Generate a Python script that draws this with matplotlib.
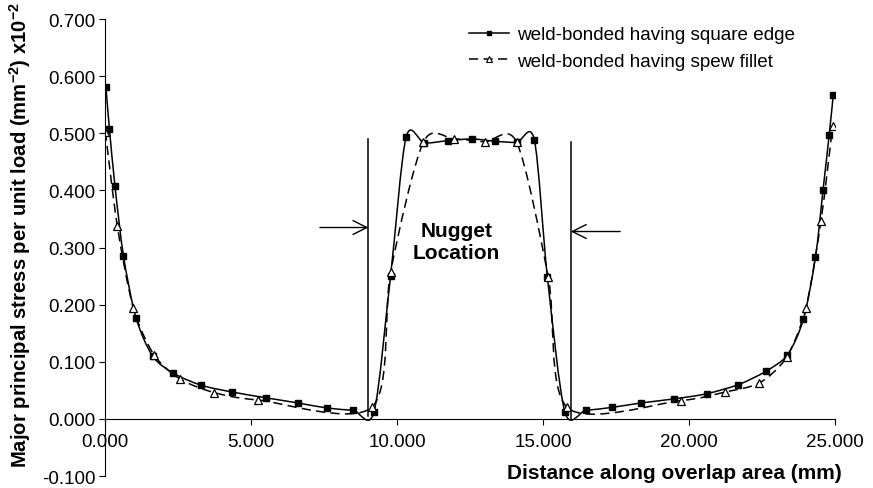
import numpy as np
import matplotlib.pyplot as plt
from matplotlib.path import Path
from matplotlib.patches import PathPatch
from matplotlib.lines import Line2D

plt.rcParams['font.family'] = ['Liberation Sans', 'DejaVu Sans']
plt.rcParams['mathtext.fontset'] = 'custom'
plt.rcParams['mathtext.rm'] = 'Liberation Sans'
plt.rcParams['mathtext.bf'] = 'Liberation Sans:bold'

# puntos
square_x = [0.03, 0.15, 0.34, 0.63, 1.06, 1.63, 2.34, 3.29, 4.36, 5.50, 6.60, 7.61,
            8.50, 9.21, 9.78, 10.31, 10.94, 11.74, 12.56, 13.36, 14.10, 14.70, 15.15,
            15.75, 16.47, 17.35, 18.37, 19.49, 20.60, 21.69, 22.62, 23.37, 23.92,
            24.33, 24.59, 24.80, 24.94]
square_y = [0.581, 0.508, 0.408, 0.286, 0.177, 0.110, 0.080, 0.059, 0.047, 0.037, 0.028,
            0.019, 0.015, 0.012, 0.251, 0.493, 0.483, 0.487, 0.490, 0.486, 0.484, 0.489,
            0.248, 0.012, 0.015, 0.020, 0.028, 0.035, 0.044, 0.060, 0.083, 0.112, 0.175,
            0.283, 0.401, 0.497, 0.567]

spew_x = [0.01, 0.42, 0.97, 1.68, 2.57, 3.74, 5.25, 9.15, 9.78, 10.90, 11.95, 13.01,
          14.10, 15.18, 15.83, 19.71, 21.23, 22.41, 23.34, 24.00, 24.52, 24.92]
spew_y = [0.503, 0.338, 0.194, 0.112, 0.070, 0.046, 0.033, 0.021, 0.257, 0.484, 0.490,
          0.485, 0.484, 0.248, 0.020, 0.032, 0.047, 0.063, 0.108, 0.194, 0.347, 0.513]

labels = ['weld-bonded having square edge', 'weld-bonded having spew fillet']
x_ticks = [0, 5, 10, 15, 20, 25]
y_ticks = [-0.1, 0.0, 0.1, 0.2, 0.3, 0.4, 0.5, 0.6, 0.7]

# limites de la pepita (lineas verticales y flechas)
nugget_left = 9.02
nugget_right = 15.95


def smooth_path(xs, ys, k=7.0):
    # curva suavizada tipo Excel (Bezier por segmentos)
    pts = np.column_stack([xs, ys])
    n = len(pts)
    verts = [pts[0]]
    codes = [Path.MOVETO]
    for i in range(n - 1):
        p0 = pts[max(i - 1, 0)]
        p1 = pts[i]
        p2 = pts[i + 1]
        p3 = pts[min(i + 2, n - 1)]
        verts += [p1 + (p2 - p0) / k, p2 - (p3 - p1) / k, p2]
        codes += [Path.CURVE4] * 3
    return Path(verts, codes)


fig = plt.figure(figsize=(8.73, 4.89), dpi=100)
ax = fig.add_axes([0.1203, 0.0245, 0.8362, 0.9346])

ax.add_patch(PathPatch(smooth_path(square_x, square_y), fill=False, color='black', lw=1.1))
ax.add_patch(PathPatch(smooth_path(spew_x, spew_y), fill=False, color='black', lw=1.1,
                       linestyle=(0, (6, 3.5))))
ax.plot(square_x, square_y, ls='none', marker='s', ms=4.5, color='black')
ax.plot(spew_x, spew_y, ls='none', marker='^', ms=6, mfc='white', mec='black', mew=0.9)

ax.plot([nugget_left, nugget_left], [0.005, 0.49], color='black', lw=1.1)
ax.plot([nugget_right, nugget_right], [0.0, 0.485], color='black', lw=1.1)
ax.annotate('', xy=(nugget_left, 0.335), xytext=(7.36, 0.335),
            arrowprops=dict(arrowstyle='->,head_length=0.5,head_width=0.25', color='black',
                            lw=1.0, shrinkA=0, shrinkB=0, mutation_scale=20))
ax.annotate('', xy=(nugget_right, 0.328), xytext=(17.64, 0.328),
            arrowprops=dict(arrowstyle='->,head_length=0.5,head_width=0.25', color='black',
                            lw=1.0, shrinkA=0, shrinkB=0, mutation_scale=20))
ax.text(12.04, 0.31, 'Nugget\nLocation', ha='center', va='center', fontsize=15,
        fontweight='bold', linespacing=1.2)

ax.set_xlim(0, 25)
ax.set_ylim(-0.1, 0.7)
ax.spines['top'].set_visible(False)
ax.spines['right'].set_visible(False)
ax.spines['bottom'].set_position(('data', 0))
ax.set_xticks(x_ticks)
ax.set_xticklabels([f'{v:.3f}' for v in x_ticks])
ax.set_yticks(y_ticks)
ax.set_yticklabels([f'{v:.3f}' for v in y_ticks])
ax.tick_params(direction='out', length=4, width=0.8, labelsize=13.5, colors='black', pad=3)
ax.tick_params(axis='x', pad=6)

handles = [Line2D([], [], color='black', lw=1.1, marker='s', ms=3),
           Line2D([], [], color='black', lw=1.1, ls=(0, (6, 3.5)), marker='^', ms=4,
                  mfc='white', mec='black', mew=0.8)]
fig.legend(handles, labels, loc='upper left', bbox_to_anchor=(469 / 873, 1 - 27 / 489),
           frameon=False, fontsize=13.6, handlelength=2.1, handletextpad=0.42,
           labelspacing=0.5, borderpad=0, borderaxespad=0)

fig.text(20 / 873, 1 - 235 / 489,
         r'Major principal stress per unit load (mm$^{\mathbf{-2}}$) x10$^{\mathbf{-2}}$',
         rotation=90, ha='center', va='center', fontsize=14.6, fontweight='bold')
fig.text(842 / 873, 1 - 479 / 489, 'Distance along overlap area (mm)', ha='right',
         va='baseline', fontsize=15, fontweight='bold')

fig.savefig('out.png', dpi=100)
